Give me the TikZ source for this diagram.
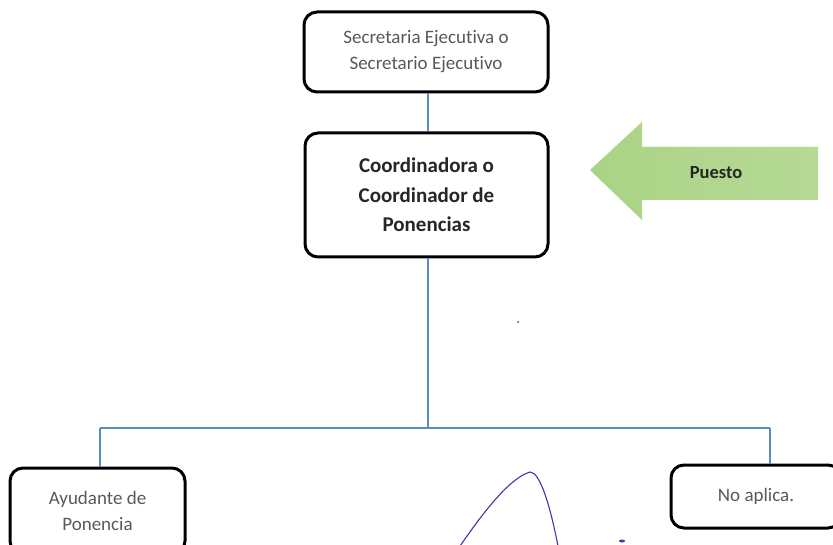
\documentclass[tikz,border=0pt]{standalone}
\usepackage{fontspec}
\setmainfont{Carlito}[Ligatures=NoCommon]
\definecolor{linkblue}{HTML}{5B8DC4}
\definecolor{boxtext}{HTML}{595959}
\definecolor{greenA}{HTML}{AAD384}
\definecolor{greenB}{HTML}{B6DA96}
\definecolor{inkblue}{HTML}{3B3BA8}
\begin{document}
\begin{tikzpicture}[x=1pt,y=-1pt,
  orgbox/.style={draw=black, line width=3pt, rounded corners=13pt, fill=white, align=center, inner sep=0pt},
  link/.style={draw=linkblue, line width=1.2pt},
  smalltext/.style={font=\fontsize{19}{26}\selectfont, text=boxtext},
  bigtext/.style={font=\bfseries\fontsize{21}{29.5}\selectfont, text=black!85}
]
\useasboundingbox (0,0) rectangle (833,545);
\clip (0,0) rectangle (833,545);
\fill[white] (0,0) rectangle (833,545);

% boxes
\node[orgbox, smalltext, minimum width=244pt, minimum height=80pt] (sec) at (426,52)
  {Secretaria Ejecutiva o\\Secretario Ejecutivo};
\node[orgbox, bigtext, minimum width=243pt, minimum height=124pt] (coord) at (426.5,195)
  {Coordinadora o\\Coordinador de\\Ponencias};
\node[orgbox, smalltext, minimum width=175pt, minimum height=86pt] (ayu) at (97.5,511)
  {Ayudante de\\Ponencia};
\node[orgbox, smalltext, minimum width=170pt, minimum height=63pt] (noap) at (756,496.5)
  {No aplica.};

% connectors
\coordinate (jc) at (428,428);
\coordinate (jl) at (100,428);
\coordinate (jr) at (770,428);
\draw[link] (sec.south -| jc) -- (coord.north -| jc);
\draw[link] (coord.south -| jc) -- (jc);
\draw[link] (jl) -- (jr);
\draw[link] (jl) -- (ayu.north -| jl);
\draw[link] (jr) -- (noap.north -| jr);

% arrow
\shade[left color=greenA, right color=greenB]
  (590,170) -- (642,122) -- (642,147) -- (818,147) -- (818,200) -- (642,200) -- (642,220) -- cycle;
\node[font=\bfseries\fontsize{18.5}{20}\selectfont, text=black!85] (puesto) at (716,173) {Puesto};

% handwritten mark
\draw[inkblue, line width=1.1pt, line cap=round]
  (460,546) .. controls (485,510) and (510,478) .. (530,472)
  .. controls (540,472) and (550,505) .. (558,546);
\fill[inkblue] (622,541) ellipse (3pt and 1.5pt);
\fill[black!70] (518,322) circle (1pt);
\end{tikzpicture}
\end{document}
